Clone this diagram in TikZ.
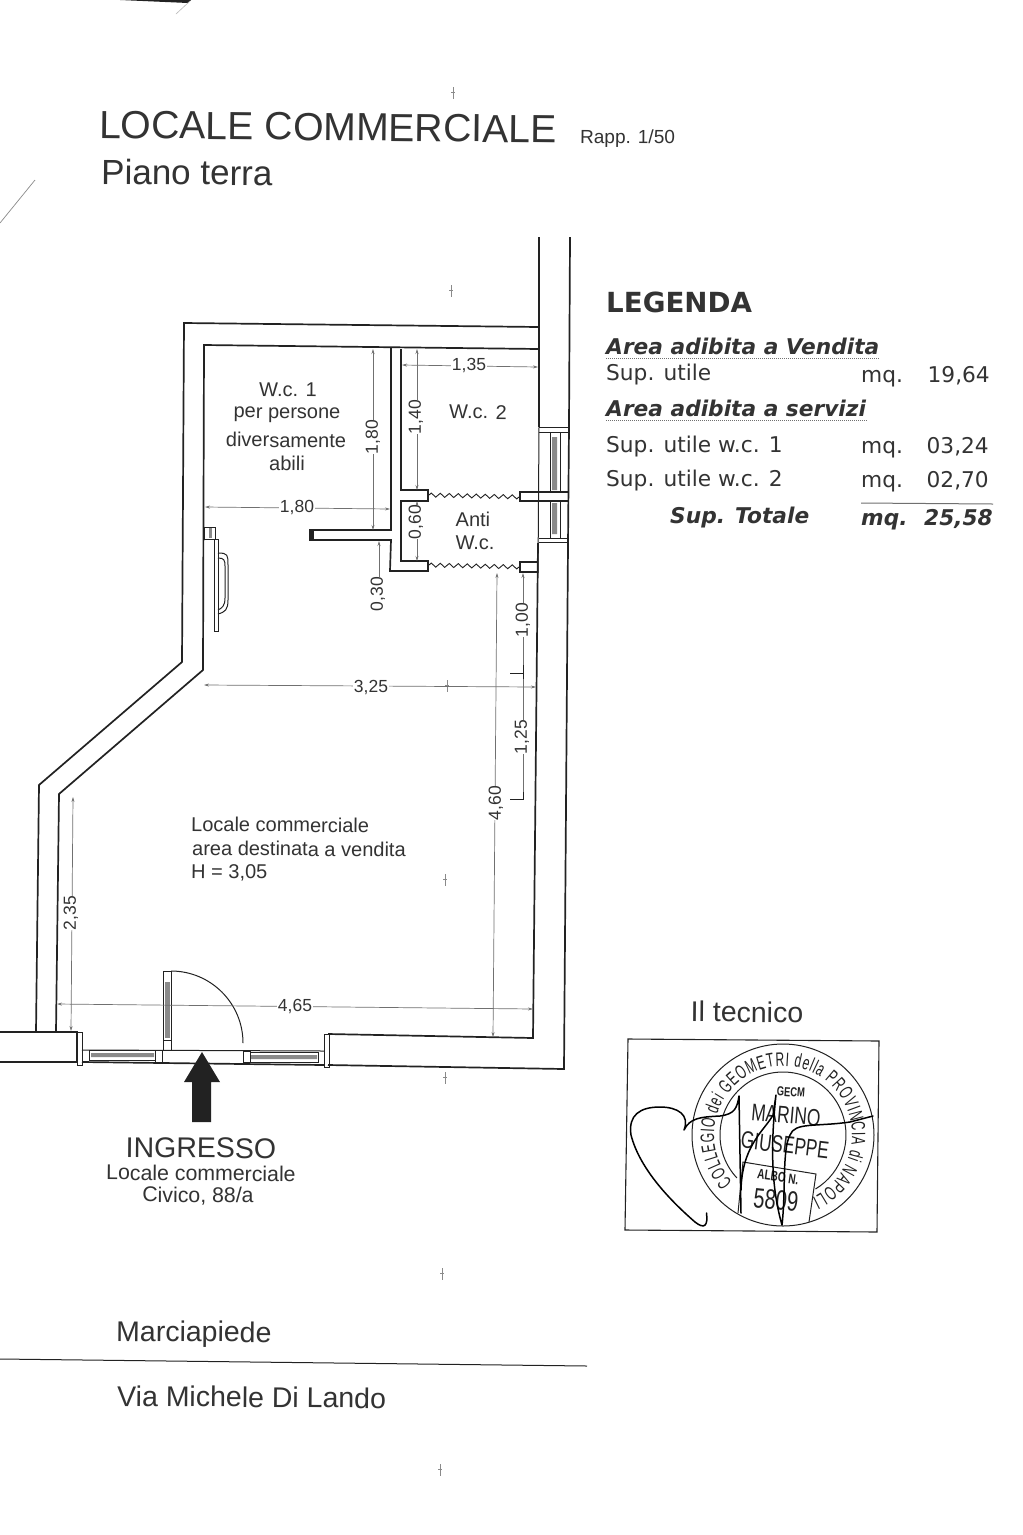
\documentclass[tikz,border=0pt]{standalone}
\usepackage{fontspec}
\setmainfont{Liberation Sans}
\newfontfamily\legfont{DejaVu Sans}
\newfontfamily\stampfont[FakeStretch=0.72]{Liberation Sans}
\newfontfamily\ringfont[FakeStretch=0.62]{Liberation Sans}
\usetikzlibrary{arrows.meta,decorations.pathmorphing,decorations.text}
\definecolor{ink}{HTML}{222222}
\definecolor{txt}{HTML}{333333}
\definecolor{dim}{HTML}{707070}
\definecolor{glass}{HTML}{8A8A8A}
\newcommand{\fs}[1]{\fontsize{#1}{#1}\selectfont}
\tikzset{
  wall/.style={draw=ink,line width=1.7pt,line join=miter},
  thinw/.style={draw=ink,line width=1pt},
  dimline/.style={draw=dim,line width=.7pt},
  dd/.style={dimline,{Stealth[length=5pt,width=3pt]}-{Stealth[length=5pt,width=3pt]}},
  ds/.style={dimline,-{Stealth[length=5pt,width=3pt]}},
  zig/.style={draw=ink,line width=.9pt,decorate,decoration={zigzag,segment length=9pt,amplitude=2pt}},
  lbl/.style={inner sep=0,text=txt,rotate=-.5},
  room/.style={lbl,font=\fs{20}},
  dimt/.style={inner sep=0,text=txt,font=\fs{17.5}},
  leg/.style={inner sep=0,anchor=base west,text=txt,font=\legfont\fs{21.7}},
  legb/.style={inner sep=0,anchor=base west,text=txt,font=\legfont\bfseries\itshape\fs{21.7}},
  legr/.style={inner sep=0,anchor=base east,text=txt,font=\legfont\fs{21.7}},
  legbr/.style={inner sep=0,anchor=base east,text=txt,font=\legfont\bfseries\itshape\fs{21.7}},
  stampt/.style={inner sep=0,text=ink},
  speck/.style={draw=glass,line width=.8pt},
  sign/.style={draw=black,line width=1.5pt,line join=round,line cap=round},
}
\begin{document}
\begin{tikzpicture}[x=1pt,y=-1pt]
\useasboundingbox (0,0) rectangle (1023,1535);
\fill[white] (0,0) rectangle (1023,1535);

% scan marks
\fill[ink] (120,0) -- (191,0) -- (188,3) -- cycle;
\draw[glass!60,line width=.6pt] (190,1) -- (176,14);
\draw[glass,line width=.7pt] (0,223) -- (35,180);
\foreach \p/\q in {453/93,451/291,447/686,445/880,445/1078,442/1274,440/1470}
  \draw[speck] (\p,\q-6) -- (\p,\q+6) (\p-2,\q-1) -- (\p+2,\q-1);

% titles
\node[lbl,rotate=-.1,anchor=base west,font=\fs{39.2}] (title) at (99,138) {LOCALE COMMERCIALE};
\node[lbl,anchor=base west,font=\fs{19}] (rapp) at (580,143) {Rapp. 1/50};
\node[lbl,anchor=base west,font=\fs{35}] (piano) at (101,184) {Piano terra};

% outer and inner wall outlines
\draw[wall] (539,327) -- (184,323) -- (182,662) -- (39,785) -- (36,1032);
\draw[wall] (539,349) -- (204,345) -- (203,670) -- (59,794) -- (56,1032);
\draw[wall] (539,237) -- (539,427);
\draw[wall] (570,237) -- (569,427) -- (568,545) -- (564,1069) -- (328,1065);
\draw[wall] (538,543) -- (533,1038) -- (328,1034);

% wc partitions
\draw[wall] (391,347) -- (391,530) -- (310,530) -- (310,540) -- (391,540) -- (390,571) -- (428,571) -- (428,561) -- (401,561) -- (401,501) -- (428,501) -- (428,490) -- (401,490) -- (401,349);
\fill[ink] (310,530) rectangle (314,540);
% stubs next to the doors
\draw[wall] (569,492) -- (520,492) -- (520,501) -- (569,501);
\draw[wall] (538,562) -- (520,562) -- (520,572) -- (538,572);
\draw[zig] (429,495) -- (520,497);
\draw[zig] (429,565) -- (520,567);

% window in the right wall
\draw[thinw] (539,427) -- (569,427) (539,432) -- (569,432);
\draw[thinw] (539,427) -- (538,573);
\draw[thinw] (539,542) -- (568,542) (539,538) -- (568,538);
\draw[thinw] (550,432) rectangle (560,492);
\draw[thinw] (550,501) rectangle (560,538);
\fill[glass] (552,437) rectangle (557,490) (552,503) rectangle (557,534);

% wc 1 door
\draw[thinw] (204,527) rectangle (215,539);
\fill[glass] (209,528) rectangle (212,538);
\draw[thinw] (214,539) rectangle (218,631);
\draw[thinw] (218,553) .. controls (228,553) and (228,555) .. (228,565) -- (228,600) .. controls (228,610) and (225,612) .. (218,614);
\draw[thinw] (218,558) .. controls (224,558) and (225,560) .. (225,566) -- (225,598) .. controls (225,606) and (222,608) .. (218,610);

% street front, left and right jambs
\draw[wall] (0,1032) -- (77,1032) -- (77,1062) -- (0,1062);
\draw[thinw] (77,1032) rectangle (82,1065);
\draw[thinw] (324,1034) rectangle (329,1067);
\draw[thinw] (82,1050) -- (324,1051);
\draw[wall] (82,1062) -- (324,1065);
\draw[thinw] (89,1050) rectangle (155,1060);
\draw[thinw] (155,1050) rectangle (162,1062);
\draw[thinw] (243,1051) rectangle (250,1062);
\draw[thinw] (250,1052) rectangle (318,1062);
\fill[glass] (91,1053) rectangle (154,1057) (251,1055) rectangle (317,1059);

% entrance door
\draw[thinw] (163,971) rectangle (171,1040);
\draw[thinw] (163,1040) rectangle (171,1050);
\fill[glass] (165,982) rectangle (170,1038);
\draw[thinw] (171,971) arc[start angle=-90,end angle=0,radius=72];
\fill[ink] (202,1052) -- (220,1082) -- (211,1082) -- (211,1122) -- (192,1122) -- (192,1082) -- (184,1082) -- cycle;

% dimensions
\draw[dd] (402,365) -- (538,367);
\draw[dd] (417,349) -- (417,490);
\draw[dd] (417,501) -- (417,561);
\draw[dd] (205,507) -- (390,509);
\draw[dd] (373,349) -- (373,530);
\draw[ds] (379,605) -- (379,541);
\draw[ds] (523,673) -- (523,573);
\draw[dimline] (523,673) -- (523,799);
\draw[dd] (497,573) -- (493,1037);
\draw[dd] (204,685) -- (536,687);
\draw[dd] (73,797) -- (71,1031);
\draw[dd] (57,1004) -- (533,1009);
\draw[ink,line width=.9pt] (523,665) -- (523,679) (510,673) -- (523,673) (523,792) -- (523,799) -- (510,799);

\foreach \n/\x/\y/\t in {d135/469/366/{1,35},d180h/297/507/{1,80},d325/371/687/{3,25},d465/295/1006/{4,65}}
  \node[dimt,fill=white,inner xsep=1pt] (\n) at (\x,\y) {\t};
\foreach \n/\x/\y/\t in {d140/416/417/{1,40},d060/416/522/{0,60},d180v/373/437/{1,80},d030/378/594/{0,30},d100/523/620/{1,00},d125/522/737/{1,25},d460/496/803/{4,60},d235/71/913/{2,35}}
  \node[dimt,fill=white,inner ysep=1pt,rotate=90] (\n) at (\x,\y) {\t};

% room labels
\node[room] (w1a) at (288,390) {W.c. 1};
\node[room] (w1b) at (287,415) {per persone};
\node[room] (w1c) at (286,440) {diversamente};
\node[room] (w1d) at (287,463) {abili};
\node[room] (w2) at (478,412) {W.c. 2};
\node[room] (anti1) at (473,519) {Anti};
\node[room] (anti2) at (475,543) {W.c.};
\node[room,anchor=base west] (lc1) at (191,831) {Locale commerciale};
\node[room,anchor=base west] (lc2) at (192,855) {area destinata a vendita};
\node[room,anchor=base west] (lc3) at (191,878) {H = 3,05};

% entrance labels
\node[lbl,font=\fs{28.5}] (ing) at (201,1148) {INGRESSO};
\node[lbl,font=\fs{21.3}] (ing2) at (201,1173) {Locale commerciale};
\node[lbl,font=\fs{21.3}] (ing3) at (198,1196) {Civico, 88/a};
\node[lbl,anchor=base west,font=\fs{28.5}] (marc) at (116,1341) {Marciapiede};
\node[lbl,anchor=base west,font=\fs{28.5}] (via) at (117,1406) {Via Michele Di Lando};
\draw[draw=ink,line width=1pt] (0,1359) -- (587,1366);

% legend
\node[inner sep=0,anchor=base west,text=txt,font=\legfont\bfseries\fs{27.7}] (lega) at (606,312) {LEGENDA};
\node[legb] (a1) at (606,354) {Area adibita a Vendita};
\draw[dim,line width=1pt,densely dotted] (606,358) -- (880,358);
\node[leg] (s1) at (606,380) {Sup. utile};
\node[leg] (m1) at (861,382) {mq.};
\node[legr] (v1) at (990,382) {19,64};
\node[legb] (a2) at (606,416) {Area adibita a servizi};
\draw[dim,line width=1pt,densely dotted] (606,420) -- (867,420);
\node[leg] (s2) at (606,452) {Sup. utile w.c. 1};
\node[leg] (m2) at (861,453) {mq.};
\node[legr] (v2) at (989,453) {03,24};
\node[leg] (s3) at (606,486) {Sup. utile w.c. 2};
\node[leg] (m3) at (861,487) {mq.};
\node[legr] (v3) at (989,487) {02,70};
\draw[dim,line width=1pt] (861,503) -- (993,504);
\node[legb] (s4) at (670,523) {Sup. Totale};
\node[legb] (m4) at (861,525) {mq.};
\node[legbr] (v4) at (993,525) {25,58};

% stamp box
\node[lbl,font=\fs{28.5}] (tec) at (747,1012) {Il tecnico};
\draw[ink,line width=1.1pt] (628,1039) -- (879,1041) -- (877,1232) -- (625,1230) -- cycle;
\begin{scope}[shift={(783,1135)}]
  \draw[ink,line width=1pt] (0,0) circle[radius=91];
  % inner ring, open where the albo box sits
  \draw[ink,line width=1pt] (137:63) arc[start angle=137,end angle=419,radius=63];
  % ring text; the y axis points down, so these angles run clockwise on the page
  \path[decorate,decoration={text along path,text align=fit to path,
    text={|\ringfont\fs{19.5}\color{ink}|COLLEGIO dei GEOMETRI della PROVINCIA di NAPOLI}}]
    (137:69) arc[start angle=137,end angle=425,radius=69];
  % albo box
  \draw[ink,line width=1pt] (-45,78) -- (-40,27) -- (33,39) -- (26,87);
  \node[stampt,font=\stampfont\bfseries\fs{13},rotate=-4] (gecm) at (8,-43) {GECM};
  \node[stampt,font=\stampfont\fs{24},rotate=-5] (mar) at (3,-20) {MARINO};
  \node[stampt,font=\stampfont\fs{24},rotate=-7] (giu) at (2,10) {GIUSEPPE};
  \node[stampt,font=\stampfont\bfseries\fs{14},rotate=-8] (alb) at (-5,42) {ALBO N.};
  \node[stampt,font=\stampfont\fs{28},rotate=-6] (num) at (-7,65) {5809};
\end{scope}
% signature
\draw[sign] (706.5,1213) .. controls (708,1225) and (705,1230) .. (695,1222) .. controls (672,1202) and (640,1170) .. (631,1135) .. controls (628,1115) and (640,1107) .. (660,1107) .. controls (678,1107) and (690,1115) .. (684,1130) .. controls (690,1118) and (700,1117) .. (720,1116) .. controls (735,1114) and (737,1108) .. (739,1096) -- (741,1213);
\draw[sign] (741,1190) .. controls (742,1145) and (765,1130) .. (773,1115) -- (776,1095) .. controls (770,1150) and (772,1190) .. (782,1225) .. controls (786,1190) and (782,1150) .. (790,1135) .. controls (795,1122) and (815,1127) .. (850,1122) -- (873,1116);
\end{tikzpicture}
\end{document}
